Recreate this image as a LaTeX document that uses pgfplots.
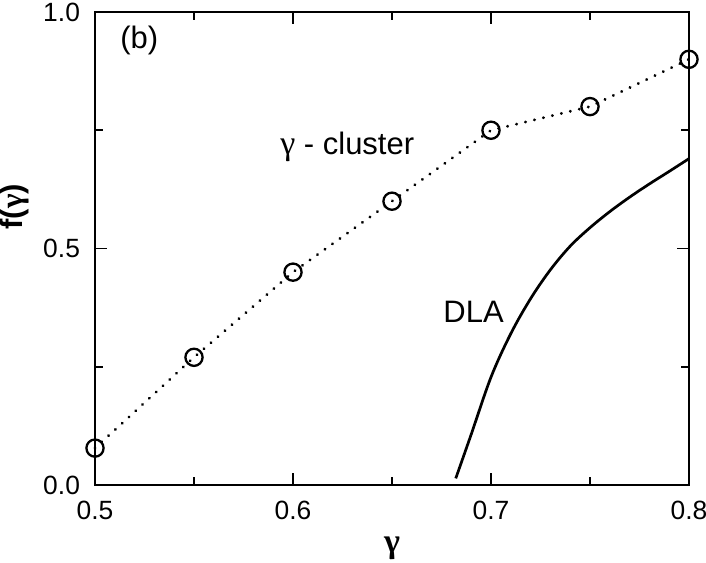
\documentclass[border=0pt]{standalone}
\usepackage{fontspec}
\setmainfont{Liberation Sans}
\newfontfamily\gfont{Liberation Serif}
\usepackage{pgfplots}
\pgfplotsset{compat=1.18}
\newcommand{\mytl}[1]{\hbox{\fontsize{13.2}{15}\selectfont #1}}
\begin{document}
\begin{tikzpicture}
\begin{axis}[
  scale only axis,
  width=297pt, height=236.5pt,
  xmin=0.5, xmax=0.8, ymin=0, ymax=1,
  xtick={0.5,0.6,0.7,0.8},
  xticklabels={\mytl{0.5},\mytl{0.6},\mytl{0.7},\mytl{0.8}},
  minor xtick={0.55,0.65,0.75},
  ytick={0,0.5,1},
  yticklabels={\mytl{0.0},\mytl{0.5},\mytl{1.0}},
  minor ytick={0.25,0.75},
  tick align=inside,
  major tick length=6pt,
  minor tick length=4pt,
  axis line style={line width=0.85pt},
  every tick/.style={line width=0.85pt, black},
  xticklabel style={yshift=-4.5pt},
  yticklabel style={xshift=-4pt},
  xlabel={\textbf{\gfont γ}},
  ylabel={\textbf{f(\gfont γ\rmfamily)}},
  xlabel style={font=\fontsize{17}{18}\selectfont, at={(axis description cs:0.5,0)}, anchor=base, yshift=-33.5pt},
  ylabel style={font=\fontsize{15.5}{18}\selectfont, at={(axis description cs:0,0.588)}, anchor=base, yshift=36pt},
  clip=false,
]
\addplot[black, line width=1.6pt, line cap=round, dash pattern=on 0.01pt off 4.6pt,
  mark=o, mark size=4.3pt, mark options={solid, line width=1.15pt}]
  coordinates {(0.5,0.078) (0.55,0.27) (0.6,0.45) (0.65,0.60) (0.7,0.75) (0.75,0.80) (0.8,0.90)};
\addplot[black, line width=1.35pt, smooth, tension=0.55]
  coordinates {(0.6822,0.014) (0.69,0.107) (0.70,0.228) (0.71,0.32) (0.72,0.394) (0.73,0.455) (0.74,0.505) (0.75,0.544) (0.76,0.578) (0.77,0.6085) (0.78,0.6365) (0.79,0.663) (0.80,0.690)};
\node[anchor=base west, inner sep=0pt, font=\fontsize{15.5}{18}\selectfont] at (axis cs:0.5934,0.698) {{\gfont\fontsize{17}{18}\selectfont γ} - cluster};
\node[anchor=base west, inner sep=0pt, font=\fontsize{15.5}{18}\selectfont] at (axis cs:0.6758,0.3425) {DLA};
\node[anchor=base west, inner sep=0pt, font=\fontsize{15.5}{18}\selectfont] at (axis cs:0.5126,0.922) {(b)};
\end{axis}
\pgfresetboundingbox
\path[use as bounding box] ([shift={(-47.5pt,-38.5pt)}]current axis.south west) rectangle ([shift={(8.5pt,6pt)}]current axis.north east);
\end{tikzpicture}
\end{document}
